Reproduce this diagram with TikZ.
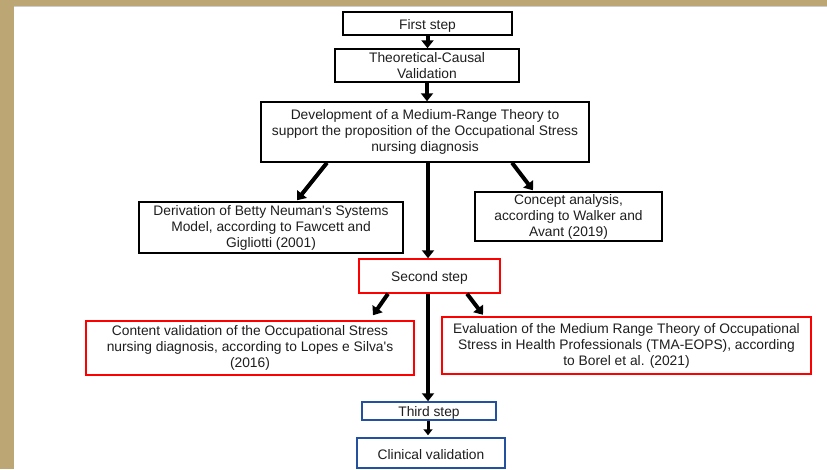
\documentclass[tikz,border=0pt]{standalone}
\usepackage{fontspec}
\setmainfont{Liberation Sans}
\usetikzlibrary{arrows.meta}
\definecolor{tan}{RGB}{188,166,116}
\definecolor{boxred}{RGB}{255,0,0}
\definecolor{boxblue}{RGB}{36,80,160}
\definecolor{txt}{RGB}{30,30,30}
\begin{document}
\begin{tikzpicture}[x=1pt,y=-1pt,
  box/.style={draw=black, line width=1.5pt, fill=white, inner sep=0pt, align=center,
    text=txt, font=\fontsize{13.8}{16}\selectfont, anchor=center,
    execute at begin node={\rule{0pt}{14pt}}},
  redbox/.style={box, draw=boxred},
  bluebox/.style={box, draw=boxblue},
  arr/.style={line width=4pt, -{Triangle[length=8pt,width=12pt]}},
  thinarr/.style={line width=3pt, -{Triangle[length=6pt,width=9pt]}}]
\useasboundingbox (0,0) rectangle (827,469);
\fill[white] (0,0) rectangle (827,469);
\fill[tan] (0,0) rectangle (14,469);
\fill[tan] (0,0) rectangle (827,5.5);
\fill[gray!40] (14,5.5) rectangle (827,6.5);

\node[box, minimum width=169pt, minimum height=23pt] (s1) at (427.5,23.5) {First step};
\node[box, minimum width=184pt, minimum height=33pt] (tc) at (427,65.5) {Theoretical-Causal\\Validation};
\node[box, minimum width=328pt, minimum height=60pt] (dev) at (425,132) {Development of a Medium-Range Theory to\\support the proposition of the Occupational Stress\\nursing diagnosis};
\node[box, minimum width=264pt, minimum height=51pt] (der) at (271,227.5) {Derivation of Betty Neuman\textquotesingle s Systems\\Model, according to Fawcett and\\Gigliotti (2001)};
\node[box, minimum width=187pt, minimum height=49pt] (con) at (568.5,216.5) {Concept analysis,\\according to Walker and\\Avant (2019)};
\node[redbox, minimum width=141pt, minimum height=34pt] (s2) at (429.5,276) {Second step};
\node[redbox, minimum width=328pt, minimum height=54pt] (cv) at (250,348) {Content validation of the Occupational Stress\\nursing diagnosis, according to Lopes e Silva\textquotesingle s\\(2016)};
\node[redbox, minimum width=369pt, minimum height=57pt] (ev) at (626.5,345.5) {Evaluation of the Medium Range Theory of Occupational\\Stress in Health Professionals (TMA-EOPS), according\\to Borel et al. (2021)};
\node[bluebox, minimum width=134pt, minimum height=18pt] (s3) at (429,411) {Third step};
\node[bluebox, minimum width=148pt, minimum height=30pt] (clin) at (431,453) {Clinical validation};

\draw[arr] (s1.south) -- (s1.south |- tc.north);
\draw[arr] (tc.south) -- (tc.south |- dev.north);
\draw[arr] ([xshift=3pt]dev.south) -- ([xshift=3pt]dev.south |- s2.north);
\draw[arr] ([xshift=-1.5pt]s2.south) -- ([xshift=-1.5pt]s2.south |- s3.north);
\draw[thinarr] ([xshift=-1pt]s3.south) -- ([xshift=-1pt,yshift=2pt]s3.south |- clin.north);
\draw[arr] ([xshift=-98pt]dev.south) -- ([xshift=26pt,yshift=1pt]der.north);
\draw[arr] ([xshift=87pt]dev.south) -- ([xshift=-35.5pt,yshift=1pt]con.north);
\draw[arr] ([xshift=-41.5pt]s2.south) -- ([xshift=123pt,yshift=5pt]cv.north);
\draw[arr] ([xshift=37.5pt]s2.south) -- ([xshift=-143.5pt,yshift=1.5pt]ev.north);
\end{tikzpicture}
\end{document}
